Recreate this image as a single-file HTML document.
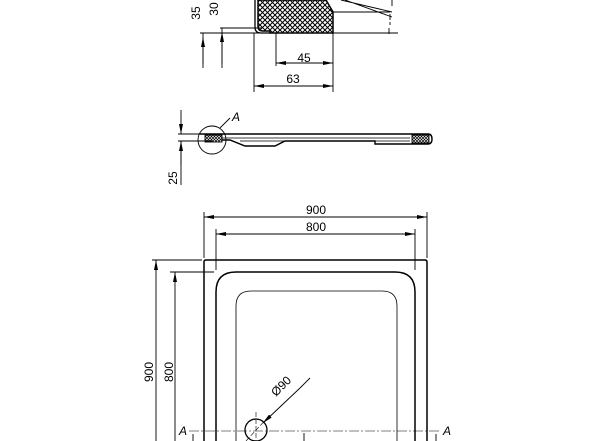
<!DOCTYPE html>
<html><head><style>html,body{margin:0;padding:0;background:#fff}svg{display:block}text{font-family:"Liberation Sans",sans-serif;fill:#000}</style></head><body>
<svg width="600" height="441" viewBox="0 0 600 441" xmlns="http://www.w3.org/2000/svg">
<defs>
<pattern id="h" width="5" height="5" patternUnits="userSpaceOnUse"><rect width="5" height="5" fill="#fff"/><path d="M0 0L5 5M5 0L0 5" stroke="#000" stroke-width="1"/></pattern>
<pattern id="h2" width="3" height="3" patternUnits="userSpaceOnUse"><rect width="3" height="3" fill="#fff"/><path d="M0 0L3 3M3 0L0 3" stroke="#000" stroke-width=".7"/></pattern>
<marker id="a" viewBox="0 0 10 4" refX="10" refY="2" markerWidth="10" markerHeight="4" orient="auto-start-reverse" markerUnits="userSpaceOnUse"><path d="M0 0L10 2L0 4z" fill="#000"/></marker>
</defs>
<g stroke="#000" fill="none" stroke-width="0.9">
<path d="M258 0V26Q258 31 263 31H270V33H333V12L326 0Z" fill="url(#h)" stroke-width="1.5"/>
<path d="M255 0V27Q255 33 261 33H270" stroke-width="1.3"/>
<path d="M333 12H390M345 0L392 17M341 0L392 12" />
<path d="M200 33H398" />
<path d="M392 0V8M390 14V25M389 28V34" stroke-dasharray="6 2"/>
<path d="M220 28H262"/>
<path d="M203 33V68M222 28V68M254 33V92M276 33V66M333 33V92"/>
<path d="M203 64V37" marker-end="url(#a)"/>
<path d="M222 64V32" marker-end="url(#a)"/>
<path d="M276 63H333" marker-start="url(#a)" marker-end="url(#a)"/>
<path d="M254 86H333" marker-start="url(#a)" marker-end="url(#a)"/>
<path d="M200 134H428Q432 134 432 139Q432 144 428 144H375V141H285L275 146H245L230 140H205" stroke-width="1.4"/>
<rect x="205" y="135" width="17" height="7" fill="url(#h2)"/>
<rect x="412" y="135" width="17" height="8" fill="url(#h2)"/>
<path d="M222 138H410M240 141H410" stroke-width=".7"/>
<circle cx="212" cy="140" r="14"/>
<path d="M220 128L230 118"/>
<path d="M178 134H212M178 141H212"/>
<path d="M181 110V134" marker-end="url(#a)"/>
<path d="M181 165V141" marker-end="url(#a)"/>
<path d="M181 141V185"/>
<path d="M204 441V262Q204 260 206 260H425Q427 260 427 262V441" stroke-width="1.5"/>
<path d="M216 441V292Q216 272 236 272H395Q415 272 415 292V441" stroke-width="1.5"/>
<path d="M236 441V306Q236 291 251 291H382Q397 291 397 306V441" stroke-width="0.8"/>
<path d="M204 258V212M427 258V212M216 270V229M415 270V229"/>
<path d="M204 217H427" marker-start="url(#a)" marker-end="url(#a)"/>
<path d="M216 234H415" marker-start="url(#a)" marker-end="url(#a)"/>
<path d="M152 260H202M170 272H214"/>
<path d="M156 441V260" marker-end="url(#a)"/>
<path d="M175 441V272" marker-end="url(#a)"/>
<circle cx="256" cy="430" r="11" stroke-width="1.3"/>
<path d="M256 412V441M246 441L270 415" stroke-width=".6" stroke-dasharray="5 2"/>
<path d="M189 431H440" stroke-width=".6" stroke-dasharray="10 2 2 2"/>
<path d="M300 388L263 423" marker-end="url(#a)"/>
<path d="M300 388L310 378"/>
<path d="M193 441V434M436 441V434M304 441V433"/>
</g>
<text x="200" y="13" font-size="12" transform="rotate(-90 200 13)" text-anchor="middle">35</text>
<text x="218" y="9" font-size="12" transform="rotate(-90 218 9)" text-anchor="middle">30</text>
<text x="304" y="62" font-size="12" text-anchor="middle">45</text>
<text x="293" y="83" font-size="12" text-anchor="middle">63</text>
<text x="232" y="121" font-size="12" font-style="italic">A</text>
<text x="177" y="178" font-size="12" transform="rotate(-90 177 178)" text-anchor="middle">25</text>
<text x="316" y="214" font-size="12" text-anchor="middle">900</text>
<text x="316" y="231" font-size="12" text-anchor="middle">800</text>
<text x="153" y="372" font-size="12" transform="rotate(-90 153 372)" text-anchor="middle">900</text>
<text x="173" y="372" font-size="12" transform="rotate(-90 173 372)" text-anchor="middle">800</text>
<text x="284" y="389" font-size="12" transform="rotate(-45 284 389)" text-anchor="middle">Ø90</text>
<text x="179" y="435" font-size="12" font-style="italic">A</text>
<text x="443" y="435" font-size="12" font-style="italic">A</text>
</svg>
</body></html>
